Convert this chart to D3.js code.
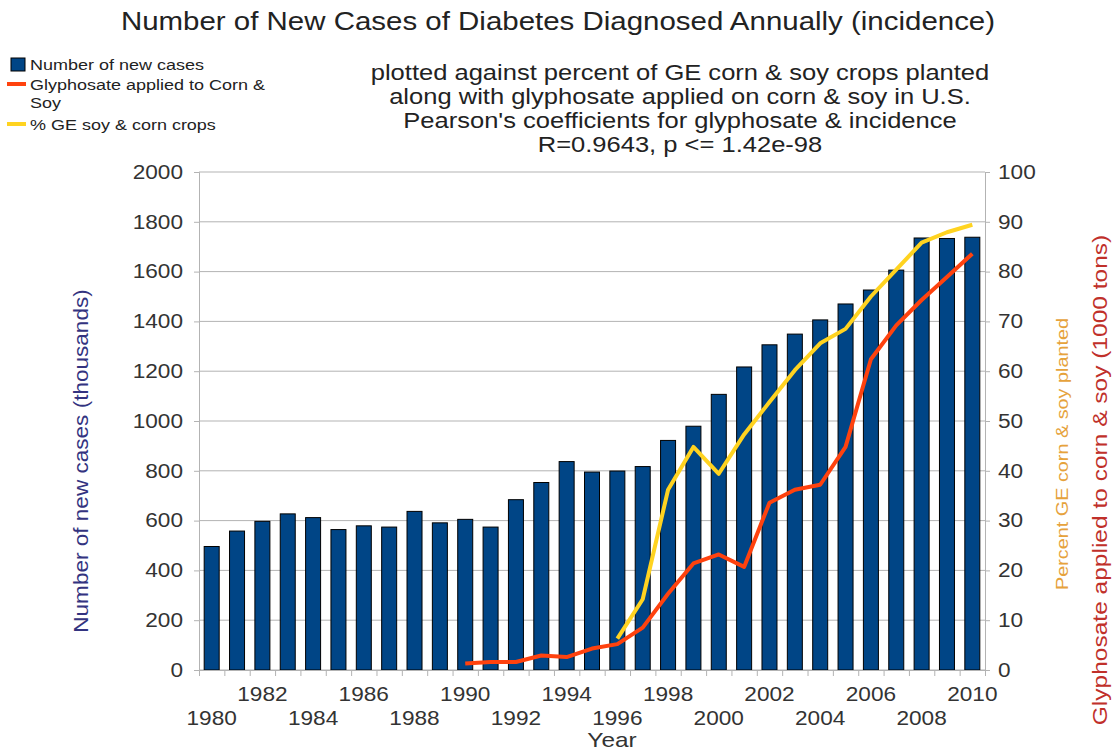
<!DOCTYPE html>
<html>
<head>
<meta charset="utf-8">
<script src="https://cdn.jsdelivr.net/npm/d3@7"></script>
<style>
  body { margin: 0; background: #fff; }
</style>
</head>
<body>
<div id="vis"></div>
<script>
const FRAME_WIDTH = 1113;
const FRAME_HEIGHT = 751;
const MARGINS = {left: 199, right: 128, top: 172, bottom: 81};
const FONT = 'Liberation Sans, Arial, sans-serif';
const SX = 1.16; // the reference text is drawn a little wide

// data
const years = d3.range(1980, 2011);
const newCases = [496, 558, 597, 627, 612, 564, 579, 574, 637, 591, 605, 574, 684, 753, 837,
                  795, 799, 817, 922, 979, 1107, 1217, 1306, 1349, 1406, 1470, 1526, 1606, 1735, 1733, 1738];
const glyphYears = d3.range(1990, 2011);
const glyphosate = [1.3, 1.6, 1.6, 2.9, 2.6, 4.3, 5.2, 8.5, 15.3, 21.4, 23.2, 20.7, 33.6, 36.2, 37.2,
                    44.8, 62.4, 69.2, 74.3, 78.9, 83.6];
const geYears = d3.range(1996, 2011);
const gePercent = [6.3, 14.2, 36.2, 44.8, 39.4, 47.3, 53.8, 60.2, 65.6, 68.5, 75.0, 80.4, 85.8, 87.9, 89.4];
const leftTicks = d3.range(0, 2001, 200);
const rightTicks = d3.range(0, 101, 10);
const subtitleLines = ["plotted against percent of GE corn & soy crops planted",
                       "along with glyphosate applied on corn & soy in U.S.",
                       "Pearson's coefficients for glyphosate & incidence",
                       "R=0.9643, p <= 1.42e-98"];
const legendLabels = ['Number of new cases', 'Glyphosate applied to Corn &', 'Soy', '% GE soy & corn crops'];

const VIS_WIDTH = FRAME_WIDTH - MARGINS.left - MARGINS.right;
const VIS_HEIGHT = FRAME_HEIGHT - MARGINS.top - MARGINS.bottom;

const FRAME = d3.select('#vis')
  .append('svg')
    .attr('width', FRAME_WIDTH)
    .attr('height', FRAME_HEIGHT)
    .style('font-family', FONT);

// widen text horizontally like the reference
function widen(sel, k) {
  sel.each(function () {
    const w = this.getComputedTextLength();
    d3.select(this).attr('textLength', w * (k || SX)).attr('lengthAdjust', 'spacingAndGlyphs');
  });
}

const X_SCALE = d3.scaleBand().domain(years).range([0, VIS_WIDTH]).paddingInner(0.4).paddingOuter(0.2);
const Y_LEFT = d3.scaleLinear().domain([0, 2000]).range([VIS_HEIGHT, 0]);
const Y_RIGHT = d3.scaleLinear().domain([0, 100]).range([VIS_HEIGHT, 0]);
const xc = (yr) => X_SCALE(yr) + X_SCALE.bandwidth() / 2;

const G = FRAME.append('g').attr('transform', 'translate(' + MARGINS.left + ',' + MARGINS.top + ')');

// grid
G.selectAll('.grid').data(leftTicks).enter().append('line')
  .attr('x1', 0).attr('x2', VIS_WIDTH)
  .attr('y1', d => Y_LEFT(d)).attr('y2', d => Y_LEFT(d))
  .attr('stroke', '#b3b3b3').attr('stroke-width', 1);

// bars
G.selectAll('.bar').data(newCases).enter().append('rect')
  .attr('x', (d, i) => xc(years[i]) - 7.5)
  .attr('width', 15)
  .attr('y', d => Y_LEFT(d))
  .attr('height', d => VIS_HEIGHT - Y_LEFT(d))
  .attr('fill', '#004586').attr('stroke', '#000').attr('stroke-width', 1);

// axes
const leftAxis = G.append('g')
  .call(d3.axisLeft(Y_LEFT).tickValues(leftTicks).tickSize(5).tickPadding(11).tickFormat(d3.format('d')));
const rightAxis = G.append('g').attr('transform', 'translate(' + VIS_WIDTH + ',0)')
  .call(d3.axisRight(Y_RIGHT).tickValues(rightTicks).tickSize(5).tickPadding(8));
const xBoundary = d3.scaleLinear().domain([0, years.length]).range([0, VIS_WIDTH]);
const bottomAxis = G.append('g').attr('transform', 'translate(0,' + VIS_HEIGHT + ')')
  .call(d3.axisBottom(xBoundary).tickValues(d3.range(0, years.length + 1)).tickSize(6).tickFormat(''));
[leftAxis, rightAxis, bottomAxis].forEach(a => {
  a.attr('font-family', FONT);
  a.select('.domain').attr('stroke', '#b3b3b3');
  a.selectAll('.tick line').attr('stroke', '#b3b3b3');
  a.selectAll('text').attr('font-size', 19.5).attr('fill', '#333');
});
leftAxis.selectAll('text').call(widen);
rightAxis.selectAll('text').call(widen);

// year labels, staggered in two rows
G.selectAll('.yl').data(years.filter(y => y % 2 === 0)).enter().append('text')
  .attr('x', d => xc(d))
  .attr('y', d => VIS_HEIGHT + ((d / 2) % 2 === 0 ? 55 : 31))
  .attr('text-anchor', 'middle').attr('font-size', 19.5).attr('fill', '#333')
  .text(d => d)
  .call(widen);

// lines
const glyLine = d3.line().x((d, i) => xc(glyphYears[i])).y(d => Y_RIGHT(d));
const geLine = d3.line().x((d, i) => xc(geYears[i])).y(d => Y_RIGHT(d));
G.append('path').datum(glyphosate).attr('d', glyLine)
  .attr('fill', 'none').attr('stroke', '#ff420e').attr('stroke-width', 4).attr('stroke-linejoin', 'round');
G.append('path').datum(gePercent).attr('d', geLine)
  .attr('fill', 'none').attr('stroke', '#ffd320').attr('stroke-width', 4).attr('stroke-linejoin', 'round');

// titles
FRAME.append('text').attr('x', 558).attr('y', 30).attr('text-anchor', 'middle')
  .attr('font-size', 25).attr('fill', '#222')
  .text('Number of New Cases of Diabetes Diagnosed Annually (incidence)')
  .call(widen, 1.178);
FRAME.selectAll('.sub').data(subtitleLines).enter().append('text')
  .attr('x', 680).attr('y', (d, i) => 80 + i * 24).attr('text-anchor', 'middle')
  .attr('font-size', 22).attr('fill', '#222')
  .text(d => d)
  .call(widen);

FRAME.append('text').attr('x', 612).attr('y', 747).attr('text-anchor', 'middle')
  .attr('font-size', 21).attr('fill', '#333').text('Year')
  .call(widen);

FRAME.append('text').attr('transform', 'translate(88,461) rotate(-90)').attr('text-anchor', 'middle')
  .attr('font-size', 20.5).attr('fill', '#333380').text('Number of new cases (thousands)')
  .call(widen, 1.1);
FRAME.append('text').attr('transform', 'translate(1068,454) rotate(-90)').attr('text-anchor', 'middle')
  .attr('font-size', 17).attr('fill', '#e6a23c').text('Percent GE corn & soy planted')
  .call(widen, 1.165);
FRAME.append('text').attr('transform', 'translate(1107,480) rotate(-90)').attr('text-anchor', 'middle')
  .attr('font-size', 21).attr('fill', '#c0302a').text('Glyphosate applied to corn & soy (1000 tons)')
  .call(widen, 1.167);

// legend
const LEG = FRAME.append('g');
LEG.append('rect').attr('x', 11).attr('y', 58).attr('width', 14).attr('height', 13)
  .attr('fill', '#004586').attr('stroke', '#000');
LEG.append('line').attr('x1', 7).attr('x2', 26).attr('y1', 84).attr('y2', 84)
  .attr('stroke', '#ff420e').attr('stroke-width', 4);
LEG.append('line').attr('x1', 7).attr('x2', 26).attr('y1', 124).attr('y2', 124)
  .attr('stroke', '#ffd320').attr('stroke-width', 4);
const legendY = [70, 90, 108, 130];
LEG.selectAll('.lt').data(legendLabels).enter().append('text')
  .attr('x', 30).attr('y', (d, i) => legendY[i])
  .attr('font-size', 15.5).attr('fill', '#222')
  .text(d => d)
  .call(widen);
</script>
</body>
</html>
